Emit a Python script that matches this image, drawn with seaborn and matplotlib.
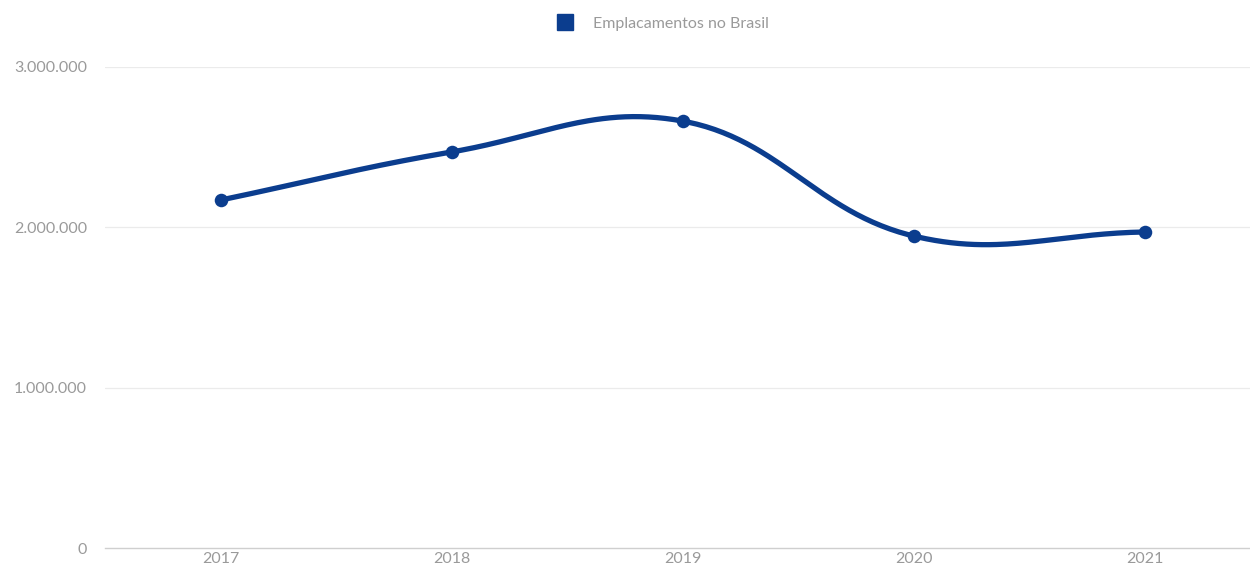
import numpy as np
import matplotlib
matplotlib.use("Agg")
import matplotlib.pyplot as plt
import seaborn as sns
import pandas as pd
from matplotlib.lines import Line2D

years = ["2017", "2018", "2019", "2020", "2021"]
emplacamentos = [2170000, 2470000, 2663000, 1946000, 1971000]
series_name = "Emplacamentos no Brasil"
y_ticks = [0, 1000000, 2000000, 3000000]
y_tick_labels = ["0", "1.000.000", "2.000.000", "3.000.000"]

sns.set_theme(style="white")
plt.rcParams["font.family"] = ["Lato", "DejaVu Sans"]

W, H = 1250, 571
fig = plt.figure(figsize=(W / 100, H / 100), dpi=100)
ax = fig.add_axes([105 / W, 1 - 548 / H, (1260 - 105) / W, (548 - 67) / H])
ax.set_xlim(-0.5, 4.5)
ax.set_ylim(0, 3000000)

color = "#0b3d8e"
xs = np.arange(len(years), dtype=float)
ys = np.array(emplacamentos, dtype=float)

# Chart.js-style spline (tension 0.4) computed in display space
fig.canvas.draw()
pts = ax.transData.transform(np.column_stack([xs, ys]))
t = 0.4
n = len(pts)
cp_prev = np.zeros_like(pts)
cp_next = np.zeros_like(pts)
for i in range(n):
    prev = pts[i - 1] if i > 0 else pts[i]
    cur = pts[i]
    nxt = pts[i + 1] if i < n - 1 else pts[i]
    d01 = np.linalg.norm(cur - prev)
    d12 = np.linalg.norm(nxt - cur)
    tot = d01 + d12
    s01 = d01 / tot if tot else 0
    s12 = d12 / tot if tot else 0
    cp_prev[i] = cur - t * s01 * (nxt - prev)
    cp_next[i] = cur + t * s12 * (nxt - prev)
curve = []
u = np.linspace(0, 1, 60)[:, None]
for i in range(n - 1):
    p0, p1, p2, p3 = pts[i], cp_next[i], cp_prev[i + 1], pts[i + 1]
    seg = (1 - u) ** 3 * p0 + 3 * (1 - u) ** 2 * u * p1 + 3 * (1 - u) * u ** 2 * p2 + u ** 3 * p3
    curve.append(seg if i == 0 else seg[1:])
curve = np.vstack(curve)
curve_data = ax.transData.inverted().transform(curve)
df_curve = pd.DataFrame({"x": curve_data[:, 0], "y": curve_data[:, 1]})
sns.lineplot(data=df_curve, x="x", y="y", sort=False, ax=ax, color=color,
             linewidth=3.8, solid_capstyle="round", zorder=3)

df = pd.DataFrame({"x": xs, "y": ys})
sns.scatterplot(data=df, x="x", y="y", ax=ax, color=color, s=95,
                edgecolor=color, linewidth=0, zorder=4)

ax.set_yticks(y_ticks)
ax.set_yticklabels(y_tick_labels)
ax.set_xticks(xs)
ax.set_xticklabels(years)
ax.set_xlabel("")
ax.set_ylabel("")
ax.tick_params(axis="y", colors="#9a9a9a", labelsize=11.5, length=0, pad=13)
ax.tick_params(axis="x", colors="#9a9a9a", labelsize=11.5, length=0, pad=3)
for yv in y_ticks[1:]:
    ax.axhline(yv, color="#ebebeb", linewidth=0.9, zorder=0)
for s in ["top", "right", "left"]:
    ax.spines[s].set_visible(False)
ax.spines["bottom"].set_color("#cfcfcf")
ax.spines["bottom"].set_linewidth(1.0)

handle = Line2D([], [], marker="s", linestyle="none", markersize=11,
                markerfacecolor=color, markeredgecolor=color)
fig.legend([handle], [series_name], loc="center", bbox_to_anchor=(659 / W, 1 - 24 / H),
           frameon=False, fontsize=11.5, labelcolor="#9a9a9a", handletextpad=0.7)

fig.savefig("out.png", dpi=100)
